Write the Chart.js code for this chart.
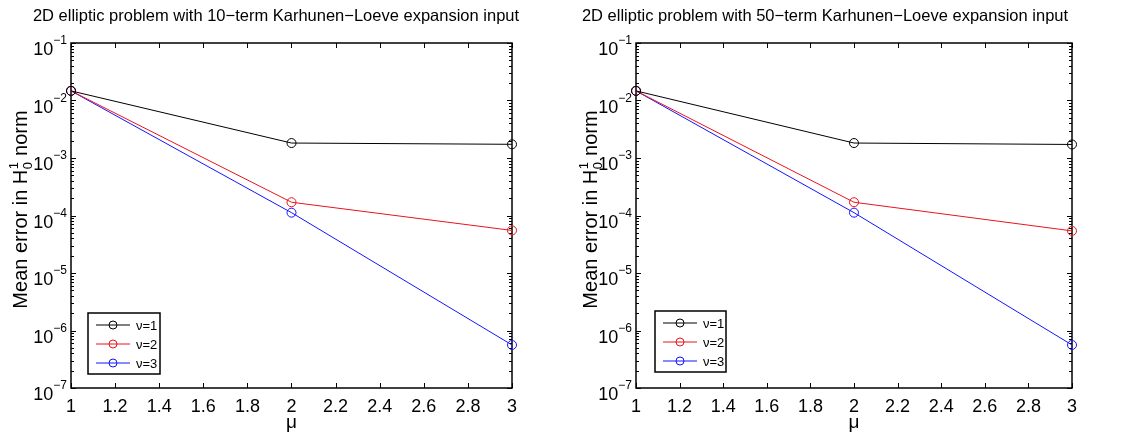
<!DOCTYPE html>
<html>
<head>
<meta charset="utf-8">
<script src="https://cdn.jsdelivr.net/npm/chart.js@4.4.1/dist/chart.umd.min.js"></script>
<style>
  html, body { margin: 0; padding: 0; background: #fff; }
  #wrap { position: relative; width: 1124px; height: 432px; }
  .pane { position: absolute; top: 0; width: 562px; height: 432px; }
</style>
</head>
<body>
<div id="wrap">
  <div class="pane" style="left:0"><canvas id="chartL" width="562" height="432"></canvas></div>
  <div class="pane" style="left:562px"><canvas id="chartR" width="562" height="432"></canvas></div>
</div>
<script>
// mu values and mean errors (H^1_0 norm) for nu = 1, 2, 3
var mu = [1, 2, 3];
var err10_nu1 = [1.47e-2, 1.82e-3, 1.73e-3];
var err10_nu2 = [1.47e-2, 1.70e-4, 5.5e-5];
var err10_nu3 = [1.47e-2, 1.12e-4, 5.6e-7];
var err50_nu1 = [1.47e-2, 1.82e-3, 1.72e-3];
var err50_nu2 = [1.47e-2, 1.70e-4, 5.4e-5];
var err50_nu3 = [1.47e-2, 1.12e-4, 5.6e-7];
var nuLabels = ['ν=1', 'ν=2', 'ν=3'];
var nuColors = ['#000000', '#e8141e', '#1414ff'];
var yExponents = [-7, -6, -5, -4, -3, -2, -1];
var xTickStep = 0.2;

var FONT = '"Liberation Sans", Arial, Helvetica, sans-serif';

// draws the matlab-style box, inner ticks, superscript labels and legend
var matlabAxes = {
    id: 'matlabAxes',
    beforeDatasetsDraw: function (chart, args, o) {
        var ctx = chart.ctx, a = chart.chartArea;
        var xs = chart.scales.x, ys = chart.scales.y;
        ctx.save();
        ctx.strokeStyle = '#000';
        ctx.lineWidth = 1;
        // x ticks top and bottom
        for (var v = 1; v <= 3.0001; v += xTickStep) {
            var px = Math.round(xs.getPixelForValue(v)) + 0.5;
            ctx.beginPath();
            ctx.moveTo(px, a.bottom); ctx.lineTo(px, a.bottom - 5);
            ctx.moveTo(px, a.top); ctx.lineTo(px, a.top + 5);
            ctx.stroke();
        }
        // y ticks, decades and minors
        for (var k = -7; k <= -1; k++) {
            for (var m = 1; m <= 9; m++) {
                if (k == -1 && m > 1) break;
                var py = Math.round(ys.getPixelForValue(m * Math.pow(10, k))) + 0.5;
                var len = (m == 1) ? 5 : 3;
                ctx.beginPath();
                ctx.moveTo(a.left, py); ctx.lineTo(a.left + len, py);
                ctx.moveTo(a.right, py); ctx.lineTo(a.right - len, py);
                ctx.stroke();
            }
        }
        // box
        ctx.lineWidth = 1.5;
        ctx.strokeRect(a.left, a.top, a.right - a.left, a.bottom - a.top);
        ctx.restore();
    },
    afterDraw: function (chart, args, o) {
        var ctx = chart.ctx, a = chart.chartArea;
        var ys = chart.scales.y;
        ctx.save();
        ctx.fillStyle = '#000';

        // title
        ctx.font = '16.5px ' + FONT;
        ctx.textAlign = 'center';
        ctx.textBaseline = 'alphabetic';
        ctx.fillText(o.title, o.titleX, 21);

        // y tick labels 10^k
        yExponents.forEach(function (k) {
            var py = ys.getPixelForValue(Math.pow(10, k));
            var exp = '\u2212' + Math.abs(k);
            ctx.font = '12px ' + FONT;
            var ew = ctx.measureText(exp).width;
            ctx.textAlign = 'left';
            var ex = a.left - 4 - ew;
            ctx.fillText(exp, ex, py + 1);
            ctx.font = '18px ' + FONT;
            ctx.textAlign = 'right';
            ctx.fillText('10', ex, py + 12);
        });

        // x label
        ctx.font = '19px ' + FONT;
        ctx.textAlign = 'center';
        ctx.fillText('μ', (a.left + a.right) / 2, 428);

        // y label with H^1_0
        ctx.save();
        ctx.translate(o.ylabelX, (a.top + a.bottom) / 2 - 6);
        ctx.rotate(-Math.PI / 2);
        var big = '20px ' + FONT, small = '13px ' + FONT;
        ctx.font = big;
        var p1 = 'Mean error in H', p2 = ' norm';
        var w1 = ctx.measureText(p1).width, w2 = ctx.measureText(p2).width;
        ctx.font = small;
        var ws = ctx.measureText('1').width + 1;
        var total = w1 + ws + w2;
        var x0 = -total / 2;
        ctx.textAlign = 'left';
        ctx.font = big;
        ctx.fillText(p1, x0, 0);
        ctx.font = small;
        ctx.fillText('1', x0 + w1 + 0.5, -9);
        ctx.fillText('0', x0 + w1 + 0.5, 5);
        ctx.font = big;
        ctx.fillText(p2, x0 + w1 + ws, 0);
        ctx.restore();

        // legend
        var L = o.legend;
        ctx.fillStyle = '#fff';
        ctx.fillRect(L.x, L.y, L.w, L.h);
        ctx.strokeStyle = '#000';
        ctx.lineWidth = 1.5;
        ctx.strokeRect(L.x, L.y, L.w, L.h);
        ctx.font = '13px ' + FONT;
        ctx.textAlign = 'left';
        ctx.textBaseline = 'middle';
        chart.data.datasets.forEach(function (ds, i) {
            var ry = L.y + 12 + i * 19;
            ctx.strokeStyle = ds.borderColor;
            ctx.lineWidth = 1;
            ctx.beginPath();
            ctx.moveTo(L.x + 8, ry); ctx.lineTo(L.x + 42, ry);
            ctx.stroke();
            ctx.beginPath();
            ctx.arc(L.x + 25, ry, 4, 0, Math.PI * 2);
            ctx.stroke();
            ctx.fillStyle = '#000';
            ctx.fillText(ds.label, L.x + 48, ry + 1);
        });
        ctx.restore();
    }
};

function makeSeries(ys) {
    return mu.map(function (m, i) { return { x: m, y: ys[i] }; });
}

function makeChart(id, series, opts) {
    var datasets = series.map(function (s, i) {
        return {
            label: nuLabels[i],
            data: makeSeries(s),
            borderColor: nuColors[i],
            backgroundColor: 'rgba(0,0,0,0)',
            borderWidth: 1,
            pointRadius: 4.5,
            pointBorderWidth: 1,
            pointBackgroundColor: 'rgba(0,0,0,0)',
            pointBorderColor: nuColors[i],
            tension: 0,
            clip: false
        };
    });
    return new Chart(document.getElementById(id), {
        type: 'line',
        data: { datasets: datasets },
        plugins: [matlabAxes],
        options: {
            responsive: false,
            animation: false,
            events: [],
            layout: { padding: { top: opts.top, right: opts.right, left: 0, bottom: 0 } },
            plugins: {
                legend: { display: false },
                tooltip: { enabled: false },
                matlabAxes: opts.axes
            },
            scales: {
                x: {
                    type: 'linear',
                    min: 1,
                    max: 3,
                    grid: { display: false, drawTicks: false },
                    border: { display: false },
                    ticks: {
                        stepSize: xTickStep,
                        padding: 8,
                        color: '#000',
                        font: { size: 18, family: FONT },
                        maxRotation: 0,
                        autoSkip: false,
                        callback: function (v) { return String(Math.round(v * 10) / 10); }
                    },
                    afterFit: function (s) { s.height = opts.bottom; }
                },
                y: {
                    type: 'logarithmic',
                    min: 1e-7,
                    max: 1e-1,
                    grid: { display: false, drawTicks: false },
                    border: { display: false },
                    ticks: { display: false },
                    afterFit: function (s) { s.width = opts.left; }
                }
            }
        }
    });
}

var chartL = makeChart('chartL', [err10_nu1, err10_nu2, err10_nu3], {
    top: 43, right: 50, left: 71, bottom: 44,
    axes: {
        title: '2D elliptic problem with 10\u2212term Karhunen\u2212Loeve expansion input',
        titleX: 276,
        ylabelX: 27,
        legend: { x: 88, y: 313, w: 72, h: 61 }
    }
});

var chartR = makeChart('chartR', [err50_nu1, err50_nu2, err50_nu3], {
    top: 43, right: 52, left: 74, bottom: 44,
    axes: {
        title: '2D elliptic problem with 50\u2212term Karhunen\u2212Loeve expansion input',
        titleX: 263,
        ylabelX: 35,
        legend: { x: 93, y: 311, w: 71, h: 61 }
    }
});
</script>
</body>
</html>
